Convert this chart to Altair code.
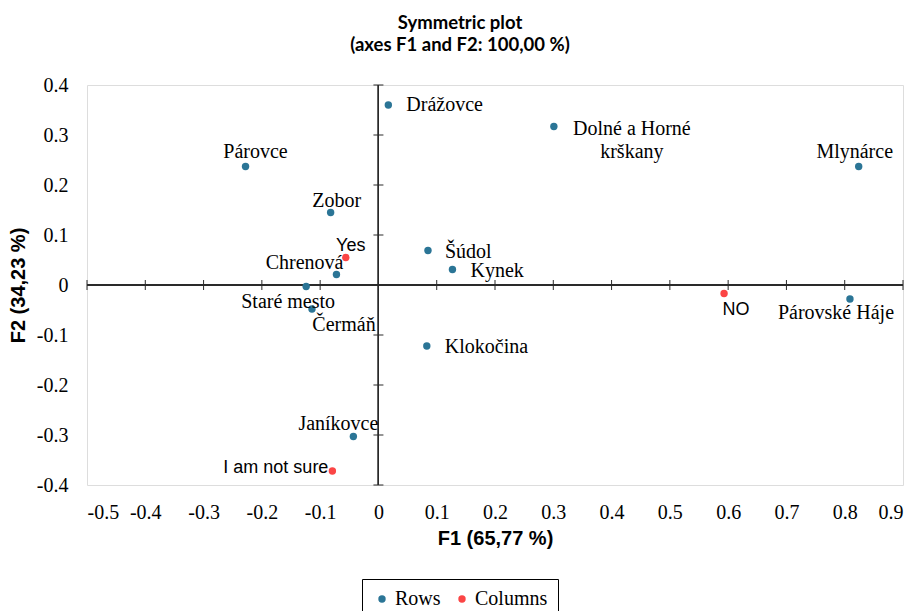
import altair as alt
import pandas as pd

# ---- data ----
names = ["Drážovce", "Dolné a Horné\nkrškany", "Mlynárce", "Párovce", "Zobor", "Šúdol",
         "Kynek", "Chrenová", "Staré mesto", "Čermáň", "Klokočina", "Párovské Háje",
         "Janíkovce", "Yes", "NO", "I am not sure"]
f1 = [0.017, 0.301, 0.824, -0.228, -0.082, 0.085, 0.127, -0.072, -0.124, -0.114,
      0.083, 0.809, -0.043, -0.056, 0.593, -0.079]
f2 = [0.360, 0.317, 0.237, 0.237, 0.145, 0.069, 0.031, 0.021, -0.003, -0.048,
      -0.122, -0.028, -0.303, 0.055, -0.017, -0.372]
kind = ["Rows"] * 13 + ["Columns"] * 3

x_ticks = [-0.5, -0.4, -0.3, -0.2, -0.1, 0.0, 0.1, 0.2, 0.3, 0.4, 0.5, 0.6, 0.7, 0.8, 0.9]
y_ticks = [-0.4, -0.3, -0.2, -0.1, 0.0, 0.1, 0.2, 0.3, 0.4]

# label placement (style): align, dx, dy
placement = {
    "Drážovce": ("left", 18, 0),
    "Dolné a Horné\nkrškany": ("center", 78, 2),
    "Mlynárce": ("center", -4, -15),
    "Párovce": ("center", 10, -15),
    "Zobor": ("center", 6, -12),
    "Šúdol": ("left", 17, 1),
    "Kynek": ("left", 18, 1),
    "Chrenová": ("right", 7, -12),
    "Staré mesto": ("center", -18, 15),
    "Čermáň": ("center", 32, 16),
    "Klokočina": ("left", 18, 1),
    "Párovské Háje": ("center", -14, 14),
    "Janíkovce": ("center", -15, -13),
    "Yes": ("center", 5, -12),
    "NO": ("center", 12, 16),
    "I am not sure": ("right", -4, -3),
}

df = pd.DataFrame({"name": names, "F1": f1, "F2": f2, "type": kind})
xt = pd.DataFrame({"t": x_ticks})
yt = pd.DataFrame({"t": y_ticks})

SERIF = "Liberation Serif, Times New Roman, serif"
SANS = "Liberation Sans, Arial, sans-serif"

xscale = alt.Scale(domain=[-0.5, 0.9], nice=False, zero=False)
yscale = alt.Scale(domain=[-0.4, 0.4], nice=False, zero=False)

label_expr = "datum.value == 0 ? '0' : replace(format(datum.value, '.1f'), '\u2212', '-')"

xaxis = alt.Axis(values=x_ticks, labelExpr=label_expr, domain=False, ticks=False, tickSize=0,
                 grid=False, labelFont=SERIF, labelFontSize=20, labelColor="#000",
                 labelPadding=17, title="F1 (65,77 %)", titleFont=SANS, titleFontSize=20,
                 titleFontWeight="bold", titleColor="#000", titleBaseline="middle",
                 titleY=53)
yaxis = alt.Axis(values=y_ticks, labelExpr=label_expr, domain=False, ticks=False, tickSize=0,
                 grid=False, labelFont=SERIF, labelFontSize=20, labelColor="#000",
                 labelPadding=19, title="F2 (34,23 %)", titleFont=SANS, titleFontSize=20,
                 titleFontWeight="bold", titleColor="#000", titleAngle=270,
                 titleBaseline="middle", titleAlign="center", titleX=-69, titleY=200)

X = lambda f: alt.X(f, type="quantitative", scale=xscale, axis=xaxis)
Y = lambda f: alt.Y(f, type="quantitative", scale=yscale, axis=yaxis)

AXIS_COLOR = "#2a2a2a"

vline = alt.Chart(df).mark_rule(color=AXIS_COLOR, strokeWidth=1).encode(
    x=alt.X(datum=0, type="quantitative", scale=xscale, axis=xaxis))
hline = alt.Chart(df).mark_rule(color=AXIS_COLOR, strokeWidth=1).encode(
    y=alt.Y(datum=0, type="quantitative", scale=yscale, axis=yaxis))

xtick = alt.Chart(xt).mark_tick(orient="vertical", size=10, thickness=1, color=AXIS_COLOR,
                                opacity=1).encode(
    x=X("t"), y=alt.Y(datum=0, type="quantitative", scale=yscale, axis=yaxis))
ytick = alt.Chart(yt).mark_tick(orient="horizontal", size=10, thickness=1, color=AXIS_COLOR,
                                opacity=1).encode(
    y=Y("t"), x=alt.X(datum=0, type="quantitative", scale=xscale, axis=xaxis))

points = alt.Chart(df).mark_circle(size=55, opacity=1).encode(
    x=X("F1"), y=Y("F2"),
    color=alt.Color("type:N",
                    scale=alt.Scale(domain=["Rows", "Columns"], range=["#2b7596", "#fb4545"]),
                    legend=alt.Legend(title=None, orient="none", direction="horizontal",
                                      legendX=275, legendY=494, padding=10,
                                      strokeColor="#000", fillColor="#fff",
                                      labelFont=SERIF, labelFontSize=20, labelColor="#000",
                                      symbolType="circle", symbolSize=55, symbolStrokeWidth=0,
                                      labelOffset=3, columnPadding=11, cornerRadius=0)),
)

label_layers = []
for nm, t in zip(names, kind):
    al, dx, dy = placement[nm]
    is_row = t == "Rows"
    label_layers.append(
        alt.Chart(df).transform_filter(alt.datum.name == nm).mark_text(
            align=al, baseline="middle", dx=dx, dy=dy,
            font=SERIF if is_row else SANS, fontSize=20 if is_row else 18,
            color="#000", lineBreak="\n", lineHeight=23,
        ).encode(x=X("F1"), y=Y("F2"), text="name:N")
    )

chart = alt.layer(vline, hline, xtick, ytick, points, *label_layers).properties(
    width=816, height=400,
    title=alt.TitleParams(["Symmetric plot", "(axes F1 and F2: 100,00 %)"],
                          font="Lato", fontSize=18.5, fontWeight="bold", color="#000",
                          lineHeight=22, anchor="middle", dx=-35, offset=21),
    autosize=alt.AutoSizeParams(type="none"),
    padding={"left": 79, "top": 77, "right": 4, "bottom": 126},
).configure_view(stroke="#8c8c8c", strokeWidth=1).configure(background="#ffffff")

chart.save("out.html", embed_options={"renderer": "svg", "actions": False})
